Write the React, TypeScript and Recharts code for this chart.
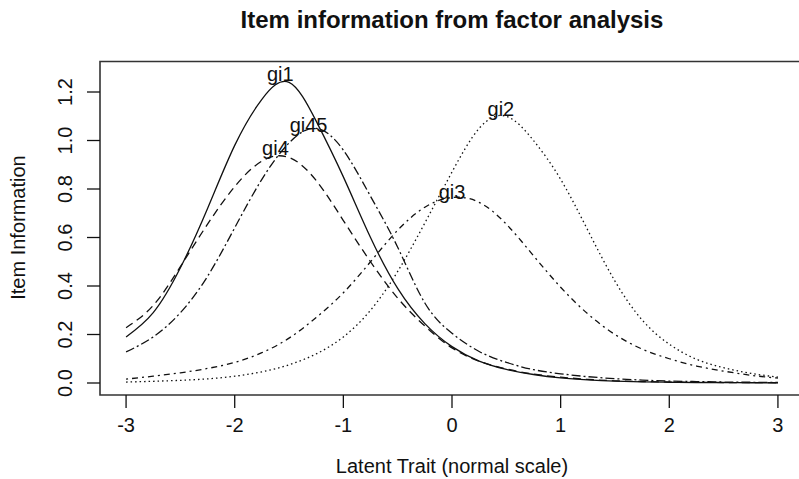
import { LineChart, Line, XAxis, YAxis, ReferenceArea, ReferenceDot } from 'recharts'

// latent trait grid and item information
const theta = [-3, -2.75, -2.5, -2.25, -2, -1.75, -1.5, -1.25, -1, -0.75, -0.5, -0.25, 0, 0.25, 0.5, 0.75, 1, 1.25, 1.5, 1.75, 2, 2.25, 2.5, 2.75, 3]
const gi1 = [0.19, 0.29, 0.475, 0.72, 0.98, 1.17, 1.24, 1.08, 0.85, 0.6, 0.39, 0.245, 0.15, 0.09, 0.056, 0.035, 0.021, 0.013, 0.008, 0.005, 0.003, 0.002, 0.0015, 0.001, 0.0006]
const gi2 = [0.004, 0.007, 0.011, 0.017, 0.028, 0.046, 0.075, 0.12, 0.19, 0.3, 0.46, 0.66, 0.87, 1.05, 1.1, 1.0, 0.84, 0.63, 0.42, 0.26, 0.16, 0.098, 0.063, 0.04, 0.024]
const gi3 = [0.016, 0.028, 0.042, 0.06, 0.085, 0.125, 0.185, 0.27, 0.372, 0.5, 0.63, 0.725, 0.765, 0.745, 0.655, 0.525, 0.395, 0.285, 0.2, 0.14, 0.1, 0.07, 0.049, 0.032, 0.02]
const gi4 = [0.228, 0.32, 0.48, 0.655, 0.81, 0.915, 0.93, 0.835, 0.67, 0.5, 0.35, 0.235, 0.145, 0.09, 0.058, 0.037, 0.024, 0.015, 0.009, 0.006, 0.004, 0.003, 0.002, 0.0015, 0.001]
const gi45 = [0.128, 0.19, 0.29, 0.44, 0.64, 0.84, 0.99, 1.05, 0.96, 0.77, 0.56, 0.33, 0.205, 0.13, 0.085, 0.055, 0.038, 0.026, 0.018, 0.012, 0.008, 0.006, 0.004, 0.003, 0.002]

const xTicks = [-3, -2, -1, 0, 1, 2, 3]
const yTicks = [0, 0.2, 0.4, 0.6, 0.8, 1.0, 1.2]

// curve labels (text centres)
const labelNames = ['gi1', 'gi45', 'gi4', 'gi3', 'gi2']
const labelX = [-1.58, -1.32, -1.625, 0.0, 0.45]
const labelY = [1.274, 1.064, 0.969, 0.789, 1.129]

const data = theta.map((t, i) => ({ t, gi1: gi1[i], gi2: gi2[i], gi3: gi3[i], gi4: gi4[i], gi45: gi45[i] }))

const FONT = '"Liberation Sans", Arial, sans-serif'
const INK = '#111'
const X_DOMAIN: [number, number] = [-3.24, 3.24]
const Y_DOMAIN: [number, number] = [-0.0495, 1.3258]

const series = [
  { key: 'gi1', dash: undefined },
  { key: 'gi4', dash: '8 5' },
  { key: 'gi45', dash: '9 3 2 3' },
  { key: 'gi3', dash: '2 4 6 4' },
  { key: 'gi2', dash: '1.5 3' },
]

function YTick(props: any) {
  const { x, y, payload } = props
  return (
    <text x={x} y={y} transform={`rotate(-90 ${x} ${y})`} textAnchor="middle" fontSize={20} fontFamily={FONT} fill={INK}>
      {payload.value.toFixed(1)}
    </text>
  )
}

export default function App() {
  return (
    <div style={{ position: 'absolute', left: 0, top: 0, width: 799, height: 479, overflow: 'hidden', background: '#fff', fontFamily: FONT }}>
      <div style={{ position: 'absolute', left: 0, width: 904, top: 6, textAlign: 'center', fontSize: 24, fontWeight: 'bold', color: INK }}>
        Item information from factor analysis
      </div>
      <div style={{ position: 'absolute', left: 0, width: 904, top: 455, textAlign: 'center', fontSize: 20, color: INK }}>
        Latent Trait (normal scale)
      </div>
      <div style={{ position: 'absolute', left: 18, top: 228, width: 0, height: 0 }}>
        <div style={{ position: 'absolute', left: -100, top: -12, width: 200, textAlign: 'center', fontSize: 20, color: INK, transform: 'rotate(-90deg)', whiteSpace: 'nowrap' }}>
          Item Information
        </div>
      </div>
      <LineChart width={810} height={479} data={data} margin={{ top: 61.5, right: 6, bottom: 44, left: 60 }}>
        <XAxis
          dataKey="t"
          type="number"
          domain={X_DOMAIN}
          ticks={xTicks}
          allowDataOverflow
          axisLine={false}
          tickSize={13}
          tickMargin={10}
          height={40}
          tickLine={{ stroke: INK, strokeWidth: 1.3 }}
          tick={{ fontSize: 20, fontFamily: FONT, fill: INK }}
        />
        <YAxis
          type="number"
          domain={Y_DOMAIN}
          ticks={yTicks}
          allowDataOverflow
          axisLine={false}
          tickSize={13}
          tickMargin={15}
          width={40}
          tickLine={{ stroke: INK, strokeWidth: 1.3 }}
          tick={<YTick />}
        />
        <ReferenceArea x1={X_DOMAIN[0]} x2={X_DOMAIN[1]} y1={Y_DOMAIN[0]} y2={Y_DOMAIN[1]} fill="none" fillOpacity={0} stroke="#333" strokeWidth={1.6} />
        {series.map(s => (
          <Line
            key={s.key}
            dataKey={s.key}
            type="natural"
            stroke={INK}
            strokeWidth={1.3}
            strokeDasharray={s.dash}
            dot={false}
            isAnimationActive={false}
          />
        ))}
        {labelNames.map((n, i) => (
          <ReferenceDot
            key={n}
            x={labelX[i]}
            y={labelY[i]}
            r={0}
            shape={(p: any) => (
              <text x={p.cx} y={p.cy} textAnchor="middle" dominantBaseline="central" fontSize={20} fontFamily={FONT} fill={INK}>
                {n}
              </text>
            )}
          />
        ))}
      </LineChart>
    </div>
  )
}
